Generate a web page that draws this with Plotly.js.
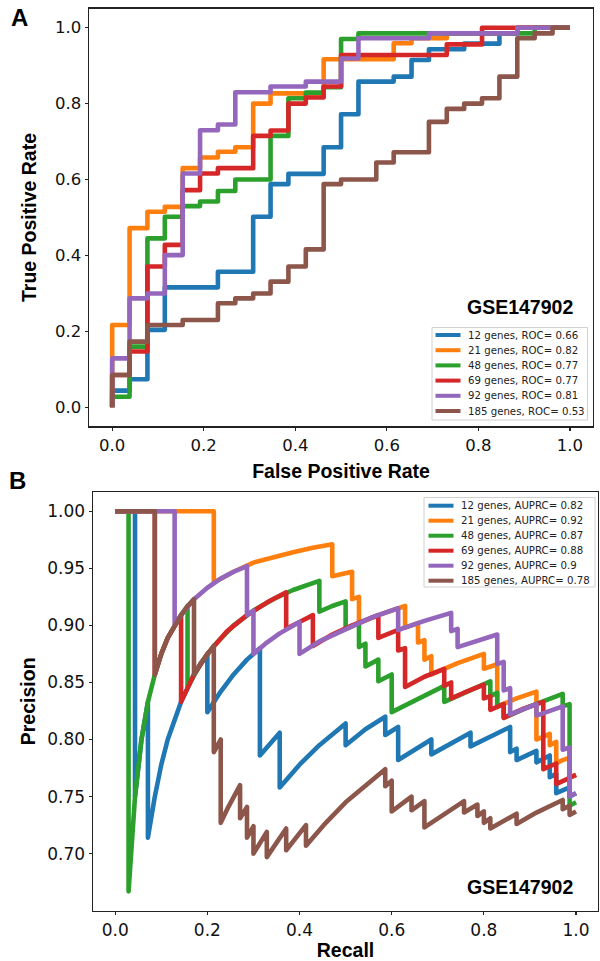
<!DOCTYPE html>
<html>
<head>
<meta charset="utf-8">
<script src="https://cdn.plot.ly/plotly-3.0.1.min.js"></script>
<style>
  html, body { margin: 0; padding: 0; background: #fff; }
  #chart { width: 600px; height: 961px; }
  .js-line { stroke-linejoin: round !important; }
</style>
</head>
<body>
<div id="chart"></div>
<script>
// ---------- labels ----------
const geneCounts = [12, 21, 48, 69, 92, 185];
const rocAuc = [0.66, 0.82, 0.77, 0.77, 0.81, 0.53];
const prAuc = [0.82, 0.92, 0.87, 0.88, 0.9, 0.78];
const datasetName = "GSE147902";
const rocTicks = [0, 0.2, 0.4, 0.6, 0.8, 1.0];
const rocTickText = ["0.0", "0.2", "0.4", "0.6", "0.8", "1.0"];
const prTicksY = [0.65, 0.70, 0.75, 0.80, 0.85, 0.90, 0.95, 1.00];
const prTickTextY = ["0.65", "0.70", "0.75", "0.80", "0.85", "0.90", "0.95", "1.00"];
const prTicksX = [0, 0.2, 0.4, 0.6, 0.8, 1.0];
const prTickTextX = ["0.0", "0.2", "0.4", "0.6", "0.8", "1.0"];

// ---------- ROC curves (step corners) ----------
const roc12Fpr = [0, 0, 0.038, 0.077, 0.115, 0.231, 0.308, 0.346, 0.385, 0.462, 0.5, 0.538, 0.615, 0.654, 0.692, 0.769, 0.846, 0.885, 1];
const roc12Tpr = [0, 0.044, 0.074, 0.204, 0.316, 0.357, 0.502, 0.588, 0.615, 0.685, 0.772, 0.858, 0.871, 0.915, 0.943, 0.958, 0.985, 1.0, 1];
const roc21Fpr = [0, 0, 0.038, 0.077, 0.115, 0.154, 0.192, 0.231, 0.269, 0.308, 0.346, 0.462, 0.615, 0.654, 0.731, 0.885, 1];
const roc21Tpr = [0, 0.217, 0.472, 0.515, 0.528, 0.63, 0.658, 0.673, 0.685, 0.80, 0.827, 0.917, 0.959, 0.972, 0.985, 1.0, 1];
const roc48Fpr = [0, 0, 0.038, 0.077, 0.115, 0.154, 0.192, 0.231, 0.269, 0.346, 0.385, 0.423, 0.462, 0.5, 0.538, 0.923, 1];
const roc48Tpr = [0, 0.028, 0.16, 0.445, 0.502, 0.53, 0.542, 0.57, 0.60, 0.715, 0.814, 0.829, 0.843, 0.97, 0.985, 1.0, 1];
const roc69Fpr = [0, 0, 0.038, 0.077, 0.115, 0.154, 0.192, 0.231, 0.308, 0.346, 0.385, 0.423, 0.462, 0.5, 0.731, 0.808, 1];
const roc69Tpr = [0, 0.085, 0.147, 0.371, 0.428, 0.572, 0.616, 0.63, 0.715, 0.729, 0.80, 0.816, 0.845, 0.928, 0.956, 1.0, 1];
const roc92Fpr = [0, 0, 0.038, 0.077, 0.115, 0.154, 0.192, 0.231, 0.269, 0.346, 0.423, 0.5, 0.538, 0.692, 0.885, 1];
const roc92Tpr = [0, 0.129, 0.287, 0.30, 0.401, 0.616, 0.73, 0.745, 0.83, 0.845, 0.858, 0.919, 0.972, 0.985, 1.0, 1];
const roc185Fpr = [0, 0, 0.038, 0.077, 0.154, 0.231, 0.269, 0.308, 0.346, 0.385, 0.423, 0.462, 0.5, 0.577, 0.615, 0.692, 0.731, 0.769, 0.808, 0.846, 0.885, 0.923, 0.962, 1];
const roc185Tpr = [0, 0.085, 0.173, 0.217, 0.23, 0.274, 0.287, 0.30, 0.331, 0.371, 0.416, 0.588, 0.60, 0.645, 0.672, 0.752, 0.786, 0.80, 0.814, 0.871, 0.972, 0.985, 1.0, 1];

// ---------- Precision-recall curves ----------
const pr12Recall = [0, .043, .043, .057, .071, .071, .086, .1, .114, .143, .171, .2, .2, .229, .257, .286, .314, .314, .357, .357, .4, .443, .5, .5, .543, .586, .586, .614, .614, .643, .686, .686, .729, .771, .771, .814, .857, .857, .871, .871, .914, .914, .943, .943, .957, .957, .986, .986, 1];
const pr12Precision = [1, 1, .75, .8, .833, .714, .75, .778, .8, .833, .857, .875, .824, .842, .857, .870, .88, .786, .806, .758, .778, .795, .814, .795, .809, .82, .804, .811, .782, .789, .80, .787, .797, .806, .794, .803, .811, .789, .792, .782, .790, .780, .786, .767, .770, .753, .758, .75, .753];

const pr21Recall = [0, .214, .214, .257, .3, .343, .386, .429, .471, .471, .514, .514, .529, .529, .571, .629, .629, .657, .657, .671, .671, .686, .686, .743, .8, .8, .829, .829, .871, .914, .914, .943, .943, .957, .957, .971, .986, .986, 1];
const pr21Precision = [1, 1, .9375, .947, .955, .96, .964, .968, .971, .943, .947, .923, .925, .902, .909, .917, .898, .902, .885, .887, .870, .873, .857, .867, .875, .862, .866, .829, .836, .842, .80, .805, .795, .798, .779, .782, .784, .767, .769];

const pr48Recall = [0, .029, .029, .043, .057, .071, .086, .1, .114, .129, .143, .157, .157, .186, .214, .257, .3, .343, .386, .443, .443, .471, .5, .5, .529, .529, .543, .543, .571, .571, .6, .6, .657, .714, .714, .757, .814, .814, .829, .829, .843, .843, .9, .971, .971, .986, .986, 1];
const pr48Precision = [1, 1, .667, .75, .8, .833, .857, .875, .889, .9, .909, .917, .846, .867, .882, .9, .913, .923, .931, .939, .912, .917, .921, .897, .902, .881, .884, .864, .870, .851, .857, .824, .836, .847, .833, .841, .851, .838, .841, .829, .831, .819, .829, .840, .829, .831, .742, .745];

const pr69Recall = [0, .086, .086, .1, .114, .129, .143, .143, .171, .2, .243, .286, .329, .371, .371, .4, .429, .429, .471, .514, .571, .571, .614, .614, .629, .629, .671, .714, .714, .729, .729, .757, .8, .8, .814, .814, .843, .843, .886, .929, .929, .957, .957, 1];
const pr69Precision = [1, 1, .857, .875, .889, .9, .909, .833, .857, .875, .895, .909, .92, .929, .897, .903, .909, .882, .892, .9, .909, .889, .896, .878, .88, .846, .855, .862, .847, .85, .836, .841, .848, .836, .838, .826, .831, .819, .827, .833, .774, .779, .761, .769];

const pr92Recall = [0, .129, .129, .143, .171, .2, .229, .257, .286, .286, .3, .3, .329, .357, .4, .4, .443, .5, .557, .614, .614, .671, .729, .729, .743, .743, .786, .829, .829, .843, .843, .857, .857, .886, .914, .914, .943, .971, .971, .986, .986, 1];
const pr92Precision = [1, 1, .9, .909, .923, .933, .941, .947, .952, .909, .913, .875, .885, .893, .903, .875, .886, .897, .907, .915, .896, .904, .911, .895, .897, .881, .887, .892, .866, .868, .843, .845, .822, .827, .831, .821, .825, .829, .791, .793, .75, .753];

const pr185Recall = [0, .086, .086, .1, .114, .129, .143, .157, .171, .171, .186, .214, .214, .229, .229, .243, .271, .271, .286, .286, .3, .3, .329, .329, .371, .371, .414, .414, .457, .5, .543, .586, .586, .6, .6, .643, .643, .671, .671, .714, .757, .757, .786, .786, .8, .8, .814, .814, .871, .871, .914, .971, .971, .986, .986, 1];
const pr185Precision = [1, 1, .857, .875, .889, .9, .909, .917, .923, .857, .867, .882, .789, .8, .727, .739, .76, .731, .741, .714, .724, .70, .719, .697, .722, .703, .725, .707, .727, .745, .76, .774, .759, .764, .737, .75, .738, .746, .723, .735, .746, .736, .743, .733, .737, .727, .731, .722, .735, .726, .736, .747, .739, .742, .734, .737];

// ---------- assemble ----------
const colors = ['#1f77b4', '#ff7f0e', '#2ca02c', '#d62728', '#9467bd', '#8c564b'];
const rocX = [roc12Fpr, roc21Fpr, roc48Fpr, roc69Fpr, roc92Fpr, roc185Fpr];
const rocY = [roc12Tpr, roc21Tpr, roc48Tpr, roc69Tpr, roc92Tpr, roc185Tpr];
const prX = [pr12Recall, pr21Recall, pr48Recall, pr69Recall, pr92Recall, pr185Recall];
const prY = [pr12Precision, pr21Precision, pr48Precision, pr69Precision, pr92Precision, pr185Precision];

const LW = 4.6;
const traces = [];
geneCounts.forEach((g, i) => {
  traces.push({
    x: rocX[i], y: rocY[i], xaxis: 'x', yaxis: 'y', type: 'scatter', mode: 'lines',
    line: {color: colors[i], width: LW, shape: 'hv'},
    name: g + ' genes, ROC= ' + String(rocAuc[i]), showlegend: false, hoverinfo: 'skip'
  });
});
geneCounts.forEach((g, i) => {
  traces.push({
    x: prX[i], y: prY[i], xaxis: 'x2', yaxis: 'y2', type: 'scatter', mode: 'lines',
    line: {color: colors[i], width: LW},
    name: g + ' genes, AUPRC= ' + String(prAuc[i]), showlegend: false, hoverinfo: 'skip'
  });
});

const W = 600, H = 961;
const px = v => v / W;
const py = v => 1 - v / H;

const tickFontTop = {family: 'DejaVu Sans', size: 16.5, color: '#111'};
const tickFontBot = {family: 'DejaVu Sans', size: 17, color: '#111'};
const titleFont = {family: 'Liberation Sans, Arial', size: 19.5, color: '#000'};
const axisCommon = {
  showline: true, mirror: true, linecolor: '#222', linewidth: 1.3,
  showgrid: false, zeroline: false, ticks: 'outside', ticklen: 3.5, tickwidth: 1.2, tickcolor: '#222',
  tickmode: 'array'
};

const annotations = [];
const shapes = [];
// panel letters and dataset labels
annotations.push({text: '<b>A</b>', xref: 'paper', yref: 'paper', x: px(19), y: py(17), xanchor: 'center', yanchor: 'middle', showarrow: false, font: {family: 'Liberation Sans, Arial', size: 24, color: '#000'}});
annotations.push({text: '<b>B</b>', xref: 'paper', yref: 'paper', x: px(17), y: py(481), xanchor: 'center', yanchor: 'middle', showarrow: false, font: {family: 'Liberation Sans, Arial', size: 24, color: '#000'}});
annotations.push({text: '<b>' + datasetName + '</b>', xref: 'paper', yref: 'paper', x: px(520), y: py(307), xanchor: 'center', yanchor: 'middle', showarrow: false, font: {family: 'Liberation Sans, Arial', size: 19.5, color: '#000'}});
annotations.push({text: '<b>' + datasetName + '</b>', xref: 'paper', yref: 'paper', x: px(520), y: py(887), xanchor: 'center', yanchor: 'middle', showarrow: false, font: {family: 'Liberation Sans, Arial', size: 19.5, color: '#000'}});

// legends
const legFont = {family: 'DejaVu Sans', size: 10.2, color: '#222'};
shapes.push({type: 'rect', xref: 'paper', yref: 'paper', x0: px(432), x1: px(587.5), y0: py(327.5), y1: py(420), line: {color: '#d0d0d0', width: 1}, fillcolor: 'rgba(255,255,255,0.8)', layer: 'above'});
shapes.push({type: 'rect', xref: 'paper', yref: 'paper', x0: px(424), x1: px(595), y0: py(497.5), y1: py(587), line: {color: '#d0d0d0', width: 1}, fillcolor: 'rgba(255,255,255,0.8)', layer: 'above'});
geneCounts.forEach((g, i) => {
  const yT = 335 + 15.2 * i;
  shapes.push({type: 'line', xref: 'paper', yref: 'paper', x0: px(435.5), x1: px(460.5), y0: py(yT), y1: py(yT), line: {color: colors[i], width: 4}, layer: 'above'});
  annotations.push({text: g + ' genes, ROC= ' + String(rocAuc[i]), xref: 'paper', yref: 'paper', x: px(465.5), y: py(yT), xanchor: 'left', yanchor: 'middle', showarrow: false, font: legFont});
  const yB = 505.7 + 15 * i;
  shapes.push({type: 'line', xref: 'paper', yref: 'paper', x0: px(428.5), x1: px(453.5), y0: py(yB), y1: py(yB), line: {color: colors[i], width: 4}, layer: 'above'});
  annotations.push({text: g + ' genes, AUPRC= ' + String(prAuc[i]), xref: 'paper', yref: 'paper', x: px(459), y: py(yB), xanchor: 'left', yanchor: 'middle', showarrow: false, font: legFont});
});

const layout = {
  width: W, height: H,
  margin: {l: 0, r: 0, t: 0, b: 0},
  paper_bgcolor: '#fff', plot_bgcolor: '#fff',
  showlegend: false,
  xaxis: Object.assign({}, axisCommon, {
    domain: [px(89.3), px(592.8)], range: [-0.05, 1.05], anchor: 'y',
    tickvals: rocTicks, ticktext: rocTickText, tickfont: tickFontTop,
    title: {text: '<b>False Positive Rate</b>', font: titleFont, standoff: 10}
  }),
  yaxis: Object.assign({}, axisCommon, {
    domain: [py(426.3), py(8.7)], range: [-0.05, 1.05], anchor: 'x',
    tickvals: rocTicks, ticktext: rocTickText, tickfont: tickFontTop,
    title: {text: '<b>True Positive Rate</b>', font: titleFont, standoff: 13}
  }),
  xaxis2: Object.assign({}, axisCommon, {
    domain: [px(93.3), px(597.7)], range: [-0.0475, 1.047], anchor: 'y2',
    tickvals: prTicksX, ticktext: prTickTextX, tickfont: tickFontBot,
    title: {text: '<b>Recall</b>', font: titleFont, standoff: 11}
  }),
  yaxis2: Object.assign({}, axisCommon, {
    domain: [py(910.5), py(492.2)], range: [0.6502, 1.0167], anchor: 'x2',
    tickvals: prTicksY, ticktext: prTickTextY, tickfont: tickFontBot,
    title: {text: '<b>Precision</b>', font: titleFont, standoff: 6}
  }),
  annotations: annotations,
  shapes: shapes
};

Plotly.newPlot('chart', traces, layout, {staticPlot: true, displayModeBar: false});
</script>
</body>
</html>
